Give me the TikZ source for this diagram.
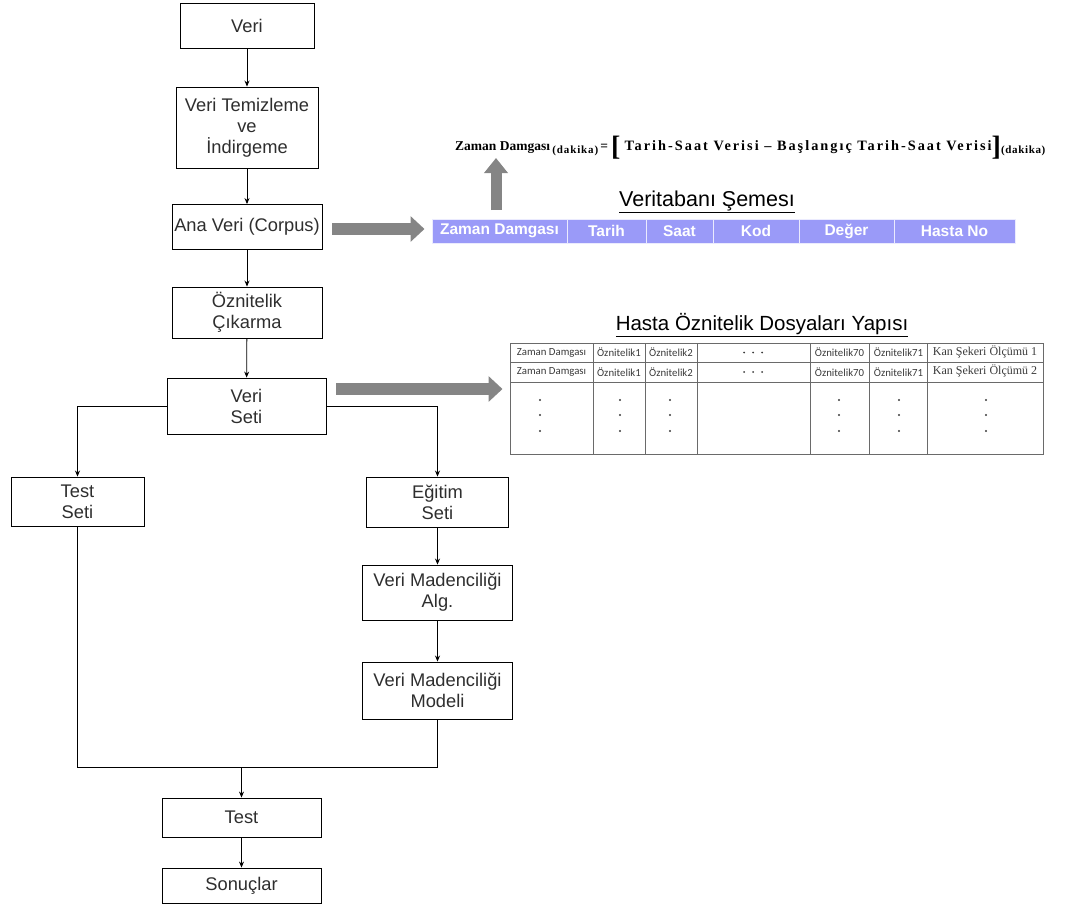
\documentclass[tikz,border=0pt]{standalone}
\usepackage{fontspec}
\setmainfont{Liberation Sans}
\newfontfamily\cellfont{Carlito}
\newfontfamily\rmserif{Liberation Serif}
\usetikzlibrary{arrows.meta}
\definecolor{boxtext}{HTML}{2E2E2E}
\definecolor{schema}{HTML}{9A9AF8}
\definecolor{bigarrow}{HTML}{858585}
\definecolor{gridline}{HTML}{6A6A6A}
\definecolor{celltext}{HTML}{3A3A3A}

\begin{document}
\begin{tikzpicture}[x=1pt,y=-1pt,
  flowbox/.style={draw=black, line width=0.9pt, inner sep=0pt, align=center,
    text=boxtext, font=\fontsize{18.3}{21}\selectfont},
  flow/.style={-{Stealth[length=6pt,width=5pt]}, line width=0.8pt},
  link/.style={line width=0.8pt},
  bigarr/.style={draw=bigarrow, line width=12pt, -{Triangle[length=14pt,width=25pt]}},
  schemacell/.style={fill=schema, draw=white!80!schema, line width=1pt, inner sep=0pt,
    minimum height=24pt, text=white, font=\bfseries\fontsize{15.5}{18}\selectfont},
  gridtext/.style={inner sep=0pt, text=celltext, font=\cellfont\fontsize{10.8}{12}\selectfont},
  kantext/.style={inner sep=0pt, text=celltext, font=\rmserif\fontsize{12}{14}\selectfont},
  gdot/.style={circle, fill=celltext, inner sep=0pt, minimum size=2.4pt},
  title/.style={inner sep=0pt, text=black, font=\fontsize{20.5}{24}\selectfont}
]
\useasboundingbox (0,0) rectangle (1067,906);

% ---------- flow chart ----------
\node[flowbox, minimum width=134pt, minimum height=45pt] (veri) at (247,25.5) {Veri};
\node[flowbox, minimum width=142pt, minimum height=81pt] (temiz) at (247,127.5) {Veri Temizleme\\ve\\İndirgeme};
\node[flowbox, minimum width=150pt, minimum height=45pt] (ana) at (247,227) {Ana Veri (Corpus)};
\node[flowbox, minimum width=150pt, minimum height=51pt] (oz) at (247,312.5) {Öznitelik\\Çıkarma};
\node[flowbox, minimum width=159pt, minimum height=56pt] (vs) at (246.5,406) {Veri\\Seti};
\node[flowbox, minimum width=133pt, minimum height=49pt] (ts) at (77.5,501.5) {Test\\Seti};
\node[flowbox, minimum width=142pt, minimum height=50pt] (es) at (437.5,502) {Eğitim\\Seti};
\node[flowbox, minimum width=150pt, minimum height=55pt] (vma) at (437.5,592.5) {Veri Madenciliği\\Alg.};
\node[flowbox, minimum width=150pt, minimum height=57pt] (vmm) at (437.5,690.5) {Veri Madenciliği\\Modeli};
\node[flowbox, minimum width=159pt, minimum height=39pt] (test) at (241.5,817.5) {Test};
\node[flowbox, minimum width=159pt, minimum height=35pt] (son) at (241.5,885.5) {Sonuçlar};
\coordinate (merge) at (241.5,767);

\draw[flow] (veri) -- (temiz);
\draw[flow] (temiz) -- (ana);
\draw[flow] (ana) -- (oz);
\draw[flow] (oz) -- (vs);
\draw[flow] (vs.west) -| (ts.north);
\draw[flow] (vs.east) -| (es.north);
\draw[flow] (es) -- (vma);
\draw[flow] (vma) -- (vmm);
\draw[link] (ts.south) |- (merge);
\draw[link] (vmm.south) |- (merge);
\draw[flow] (merge) -- (test);
\draw[flow] (test) -- (son);

% ---------- database schema ----------
\node[title, font=\fontsize{21.5}{24}\selectfont] (schematitle) at (707,202) {\underline{Veritabanı Şemesı}};
\node[schemacell, minimum width=135pt] (z1) at (499.5,231) {Zaman Damgası};
\node[schemacell, minimum width=79pt]  (z2) at (606.5,231) {Tarih};
\node[schemacell, minimum width=67pt]  (z3) at (679.5,231) {Saat};
\node[schemacell, minimum width=86pt]  (z4) at (756,231) {Kod};
\node[schemacell, minimum width=95pt]  (z5) at (846.5,231) {Değer};
\node[schemacell, minimum width=121pt] (z6) at (954.5,231) {Hasta No};

\draw[bigarr, shorten <=10pt, shorten >=7pt] ([yshift=-2pt]ana.east) -- ([yshift=2pt]z1.west);

% timestamp formula
\node[anchor=base west, inner sep=0pt, text=black,
      font=\rmserif\bfseries\fontsize{13.5}{16}\selectfont] (formula) at (455,150)
  {Zaman Damgası\,\raisebox{-3.5pt}{\addfontfeature{LetterSpace=8}\fontsize{11}{12}\selectfont(dakika)}\,=\kern3pt\raisebox{-5pt}{\fontsize{28}{28}\selectfont[}\kern4pt{\fontsize{14.3}{16}\selectfont\addfontfeature{LetterSpace=14}Tarih-Saat Verisi – Başlangıç Tarih-Saat Verisi}\raisebox{-5pt}{\fontsize{28}{28}\selectfont]}\raisebox{-3.5pt}{\addfontfeature{LetterSpace=6}\fontsize{11}{12}\selectfont(dakika)}};
\coordinate (upfrom) at (496,210);
\coordinate (upto) at (496,158);
\draw[draw=bigarrow, line width=11pt, -{Triangle[length=15pt,width=23pt]}] (upfrom) -- (upto);

% ---------- patient feature file layout ----------
\node[title] (hastatitle) at (762,325) {\underline{Hasta Öznitelik Dosyaları Yapısı}};
\node[draw=gridline, line width=1pt, inner sep=0pt, minimum width=533pt, minimum height=111pt] (hasta) at (776.5,398.5) {};
\draw[gridline, line width=0.9pt]
  (510,362.5) -- (1043,362.5)
  (510,382) -- (1043,382)
  (593,343) -- (593,454)
  (645,343) -- (645,454)
  (697,343) -- (697,454)
  (810,343) -- (810,454)
  (869,343) -- (869,454)
  (927,343) -- (927,454);

\draw[bigarr, shorten <=10pt, shorten >=7pt] ([yshift=17pt]vs.east) -- ([yshift=9.5pt]hasta.west);

\foreach \y/\n in {352.5/1, 372/2} {
  \node[gridtext] at (551.5,\y) {Zaman Damgası};
  \node[gridtext] at (619,\y) {Öznitelik1};
  \node[gridtext] at (671,\y) {Öznitelik2};
  \node[gdot, minimum size=2pt] at (744,\y) {};
  \node[gdot, minimum size=2pt] at (753,\y) {};
  \node[gdot, minimum size=2pt] at (762,\y) {};
  \node[gridtext] at (839.5,\y) {Öznitelik70};
  \node[gridtext] at (898.5,\y) {Öznitelik71};
  \node[kantext] at (985,\y-1) {Kan Şekeri Ölçümü \n};
}
\foreach \x in {540,620,670,839,899,986} {
  \foreach \y in {400,415,431} {
    \node[gdot] at (\x,\y) {};
  }
}
\end{tikzpicture}
\end{document}
